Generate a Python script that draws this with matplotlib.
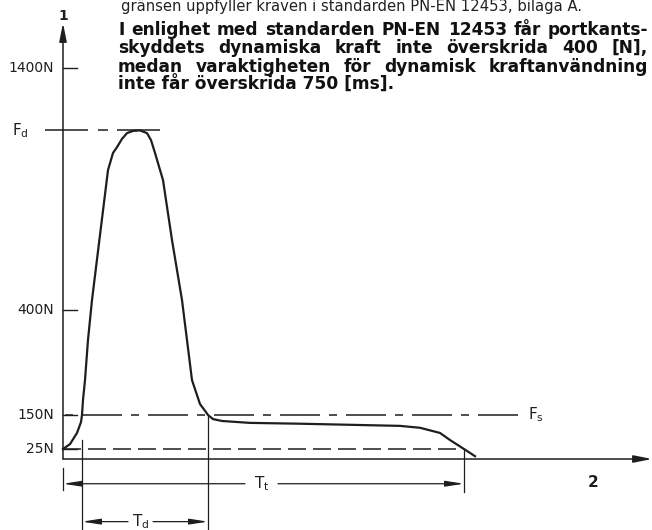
import numpy as np
import matplotlib
matplotlib.use("Agg")
import matplotlib.pyplot as plt

# force curve of the edge safety device (time in ms, force in N)
curve_t = [0, 35, 70, 90, 95, 100, 110, 125, 145, 185, 225, 250, 270, 295, 320, 350,
           385, 420, 440, 460, 500, 545, 595, 645, 685, 710, 725, 750, 795, 935,
           1185, 1685, 1785, 1885, 1935, 2005, 2060]
curve_f = [25, 43, 84, 124, 150, 186, 233, 329, 441, 710, 978, 1049, 1073, 1107, 1131, 1140,
           1142, 1131, 1102, 1049, 937, 689, 441, 233, 176, 160, 150, 135, 128, 121,
           118, 110, 103, 84, 58, 25, 7]

tick_forces = [1400, 400, 150, 25]
tick_labels = ["1400N", "400N", "150N", "25N"]

F_d = 1142     # peak (dynamic) force
F_s = 150      # static force limit
F_end = 25     # end-of-impact threshold
Td_start, Td_end = 95, 725
Tt_end = 2005

body_lines = [
    "I enlighet med standarden PN-EN 12453 får portkants-",
    "skyddets dynamiska kraft inte överskrida 400 [N],",
    "medan varaktigheten för dynamisk kraftanvändning",
    "inte får överskrida 750 [ms].",
]
prev_line = "gränsen uppfyller kraven i standarden PN-EN 12453, bilaga A."

# schematic (non linear) force axis: breakpoints force -> drawing height
scale_N = [-178, 0, 25, 150, 400, 1400, 1681]
scale_h = [-71, 0, 10, 44, 149, 391, 459]


def fwd(v):
    return np.interp(v, scale_N, scale_h)


def inv(v):
    return np.interp(v, scale_h, scale_N)


W, H = 652, 530
ink = "#1e1e1e"

fig = plt.figure(figsize=(W / 100, H / 100), dpi=100)
ax = fig.add_axes([0, 0, 1, 1])
ax.set_yscale("function", functions=(fwd, inv))
ax.set_xlim(-315, 2945)
ax.set_ylim(-178, 1681)
ax.axis("off")


def dash(px, lw):
    # dash lengths given in pixels -> points scaled by linewidth
    return tuple(p * 0.72 / lw for p in px)


# axes with arrows
arr = dict(color=ink, lw=1.1, shrinkA=0, shrinkB=0)
ax.annotate("", xy=(0, 1586), xytext=(0, 0),
            arrowprops=dict(arrowstyle="-|>,head_length=1.1,head_width=0.22", **arr))
ax.annotate("", xy=(2945, 0), xytext=(0, 0),
            arrowprops=dict(arrowstyle="-|>,head_length=1.1,head_width=0.22", **arr))
ax.text(0, 1615, "1", ha="center", va="center", fontsize=10, fontweight="bold", color=ink)
ax.text(2650, -60, "2", ha="center", va="center", fontsize=11, fontweight="bold", color=ink)

# ticks and labels
for f, lab in zip(tick_forces, tick_labels):
    ax.plot([0, 70], [f, f], color=ink, lw=1.0)
    ax.text(-45, f, lab, ha="right", va="center", fontsize=10, color=ink)

# reference lines
lw_d = 1.1
ax.plot([-90, 500], [F_d, F_d], color=ink, lw=lw_d,
        linestyle=(0, dash([43, 10, 10, 9], lw_d)))
ax.text(-255, F_d, r"$\mathrm{F_d}$", ha="left", va="center", fontsize=11, color=ink)
ax.plot([0, 2300], [F_s, F_s], color=ink, lw=lw_d,
        linestyle=(47 * 0.72 / lw_d, dash([40, 9, 8, 9], lw_d)))
ax.text(2325, F_s, r"$\mathrm{F_s}$", ha="left", va="center", fontsize=11, color=ink)
ax.plot([0, Tt_end], [F_end, F_end], color=ink, lw=lw_d,
        linestyle=(0, dash([18, 7], lw_d)))

# force curve
ax.plot(curve_t, curve_f, color=ink, lw=1.6, solid_joinstyle="round")

# extension lines
ax.plot([Td_start, Td_start], [58, -178], color=ink, lw=0.9)
ax.plot([Td_end, Td_end], [F_s, -178], color=ink, lw=0.9)
ax.plot([Tt_end, Tt_end], [F_end, -82], color=ink, lw=0.9)
ax.plot([0, 0], [-22, -77], color=ink, lw=0.9)

# dimension arrows
dim = dict(arrowstyle="-|>,head_length=1.1,head_width=0.17", color=ink, lw=0.9,
           shrinkA=0, shrinkB=0)
y_tt, y_td = -62, -157
ax.annotate("", xy=(0, y_tt), xytext=(910, y_tt), arrowprops=dim)
ax.annotate("", xy=(Tt_end, y_tt), xytext=(1075, y_tt), arrowprops=dim)
ax.text(992, y_tt, r"$\mathrm{T_t}$", ha="center", va="center", fontsize=11, color=ink)
ax.annotate("", xy=(Td_start, y_td), xytext=(325, y_td), arrowprops=dim)
ax.annotate("", xy=(Td_end, y_td), xytext=(450, y_td), arrowprops=dim)
ax.text(387, y_td, r"$\mathrm{T_d}$", ha="center", va="center", fontsize=11, color=ink)

# text block above the diagram
r = fig.canvas.get_renderer()


def width_px(s, **kw):
    t = fig.text(0, 0, s, **kw)
    w = t.get_window_extent(renderer=r).width
    t.remove()
    return w


body_kw = dict(fontweight="bold", color="#111111", family="DejaVu Sans")
size = 10 * 277 / width_px(body_lines[-1], fontsize=10, **body_kw)
x0, x1 = 118, 648
baselines = [35, 53, 72, 90]
for i, (line, yb) in enumerate(zip(body_lines, baselines)):
    words = line.split(" ")
    if i == len(body_lines) - 1:
        fig.text(x0 / W, 1 - yb / H, line, ha="left", va="baseline", fontsize=size, **body_kw)
        continue
    ws = [width_px(w, fontsize=size, **body_kw) for w in words]
    gap = (x1 - x0 - sum(ws)) / (len(words) - 1)
    x = x0
    for w, wd in zip(words, ws):
        fig.text(x / W, 1 - yb / H, w, ha="left", va="baseline", fontsize=size, **body_kw)
        x += wd + gap

reg_kw = dict(color="#222222", family="DejaVu Sans")
size0 = 10 * 457 / width_px(prev_line, fontsize=10, **reg_kw)
fig.text(121 / W, 1 - 11 / H, prev_line, ha="left", va="baseline", fontsize=size0, **reg_kw)

fig.savefig("out.png", dpi=100)
